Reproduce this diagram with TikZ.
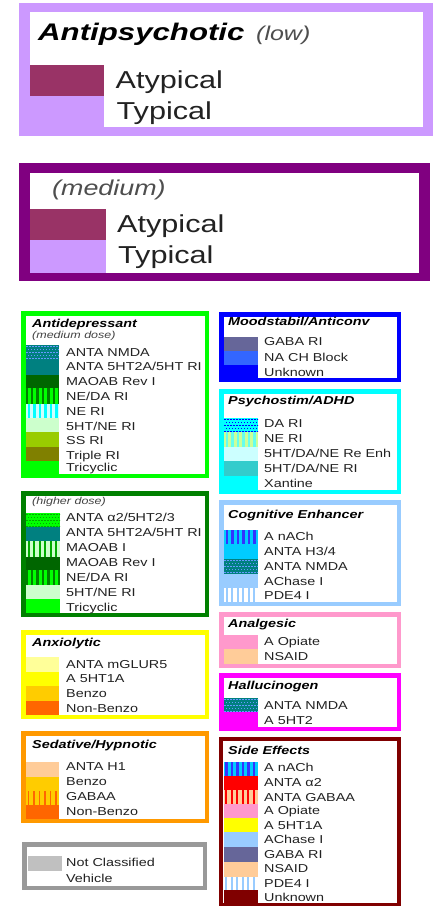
\documentclass[tikz,border=0pt]{standalone}
\usepackage{fontspec}
\setmainfont{Liberation Sans}[FakeStretch=1.25]
\newfontfamily\bigfam{Liberation Sans}[FakeStretch=1.3]
\definecolor{txt}{HTML}{222222}
\definecolor{lpurple}{HTML}{CC99FF}
\definecolor{dpurple}{HTML}{800080}
\definecolor{atyp}{HTML}{993366}
\definecolor{bgreen}{HTML}{00FF00}
\definecolor{mgreen}{HTML}{008000}
\definecolor{dgreen}{HTML}{006600}
\definecolor{teal2}{HTML}{008080}
\definecolor{lgreen}{HTML}{CCFFCC}
\definecolor{ssri}{HTML}{99CC00}
\definecolor{olive2}{HTML}{808000}
\definecolor{yel}{HTML}{FFFF00}
\definecolor{pyel}{HTML}{FFFF99}
\definecolor{gold}{HTML}{FFCC00}
\definecolor{orng}{HTML}{FF6600}
\definecolor{obord}{HTML}{FF9900}
\definecolor{peach}{HTML}{FFCC99}
\definecolor{gbord}{HTML}{999999}
\definecolor{gsw}{HTML}{C0C0C0}
\definecolor{blu}{HTML}{0000FF}
\definecolor{slate}{HTML}{666699}
\definecolor{mblue}{HTML}{3366FF}
\definecolor{cyn}{HTML}{00FFFF}
\definecolor{lcyan}{HTML}{CCFFFF}
\definecolor{mcyan}{HTML}{33CCCC}
\definecolor{skyb}{HTML}{99CCFF}
\definecolor{dsky}{HTML}{00CCFF}
\definecolor{pink2}{HTML}{FF99CC}
\definecolor{mag}{HTML}{FF00FF}
\definecolor{dred}{HTML}{800000}
\definecolor{rd}{HTML}{FF0000}
\definecolor{lav}{HTML}{6699FF}
\definecolor{dotg}{HTML}{00AA00}
\definecolor{bbar}{HTML}{3333FF}
\definecolor{nebg}{HTML}{CCFF99}
\definecolor{nefg}{HTML}{66FFEE}
\newcommand{\lf}{\fontsize{11.5}{13}\selectfont}
\newcommand{\frm}[6]{\fill[#1] (#2,#3) rectangle (#4,#5);
  \fill[white] ({#2+#6},{#3+#6}) rectangle ({#4-#6},{#5-#6});}
\newcommand{\sw}[5]{\fill[#5] (#1,#3) rectangle (#2,#4);}
\newcommand{\strp}[7]{\fill[#5] (#1,#3) rectangle (#2,#4);
  \foreach \k in {0,...,5} \fill[#6] ({#1+1.5+\k*5.5},#3) rectangle ++(#7,{#4-#3});}
\newcommand{\dotsw}[6]{\fill[#5] (#1,#3) rectangle (#2,#4);
  \begin{scope}\clip (#1,#3) rectangle (#2,#4);
  \foreach \r in {0,...,4}{\foreach \c in {0,...,11}{
    \fill[#6] ({#1+\c*3+mod(\r,2)*1.5},{#3+1+\r*3}) rectangle ++(1.6,1.3);}}
  \end{scope}}
\newcommand{\lab}[4]{\node[lab] (#1) at (#2,#3) {#4};}
\newcommand{\ttl}[4]{\node[ttl] (#1) at (#2,#3) {#4};}
\begin{document}
\begin{tikzpicture}[x=1pt,y=-1pt,
  lab/.style={anchor=base west,inner sep=0pt,text=txt,font=\lf},
  ttl/.style={anchor=base west,inner sep=0pt,text=black,font=\lf\bfseries\itshape}]
\useasboundingbox (0,0) rectangle (439,906);
\fill[white] (0,0) rectangle (439,906);
% ---- Antipsychotic low
\fill[lpurple] (19,3.3) rectangle (432.7,136);
\fill[white] (30,12.3) rectangle (422.7,126.7);
\sw{30}{104}{65}{96}{atyp}
\sw{30}{104}{96}{126.7}{lpurple}
\node[anchor=base west,inner sep=0pt,text=black,font=\bigfam\fontsize{24}{26}\selectfont\bfseries\itshape] (ap) at (38,40.5) {Antipsychotic};
\node[anchor=base west,inner sep=0pt,text=txt!80,font=\fontsize{20}{22}\selectfont\itshape] (low) at (256,40.5) {(low)};
\node[anchor=base west,inner sep=0pt,text=txt,font=\fontsize{24.5}{26}\selectfont] (a1) at (115.5,88.3) {Atypical};
\node[anchor=base west,inner sep=0pt,text=txt,font=\fontsize{24.5}{26}\selectfont] (t1) at (116.5,119) {Typical};
% ---- medium
\fill[dpurple] (19,163.3) rectangle (430,280.7);
\fill[white] (30,172.7) rectangle (419.3,272.7);
\sw{30}{106}{209}{240}{atyp}
\sw{30}{106}{240}{272.7}{lpurple}
\node[anchor=base west,inner sep=0pt,text=txt!80,font=\fontsize{21.5}{23}\selectfont\itshape] (med) at (52,195) {(medium)};
\node[anchor=base west,inner sep=0pt,text=txt,font=\fontsize{24.5}{26}\selectfont] (a2) at (117,232.7) {Atypical};
\node[anchor=base west,inner sep=0pt,text=txt,font=\fontsize{24.5}{26}\selectfont] (t2) at (118,263.3) {Typical};
% ---- Antidepressant medium
\frm{bgreen}{21}{311}{209}{478}{4.5}
\dotsw{26}{59}{345}{360}{teal2}{lav}
\sw{26}{59}{360}{375}{teal2}
\sw{26}{59}{375}{388}{dgreen}
\strp{26}{59}{388}{404}{mgreen}{bgreen}{3}
\strp{26}{59}{404}{418}{lcyan}{cyn}{2.5}
\sw{26}{59}{418}{432}{lgreen}
\sw{26}{59}{432}{447}{ssri}
\sw{26}{59}{447}{461}{olive2}
\sw{26}{59}{461}{473.5}{bgreen}
\ttl{adt}{32}{327}{Antidepressant}
\node[anchor=base west,inner sep=0pt,text=txt!85,font=\fontsize{10}{11}\selectfont\itshape] (adm) at (32,338.3) {(medium dose)};
\lab{ad1}{66}{356.7}{ANTA NMDA}
\lab{ad2}{66}{370.7}{ANTA 5HT2A/5HT RI}
\lab{ad3}{66}{385.7}{MAOAB Rev I}
\lab{ad4}{66}{400}{NE/DA RI}
\lab{ad5}{66}{415}{NE RI}
\lab{ad6}{66}{430}{5HT/NE RI}
\lab{ad7}{66}{444.3}{SS RI}
\lab{ad8}{66}{459}{Triple RI}
\lab{ad9}{66}{471}{Tricyclic}
% ---- Antidepressant higher
\frm{mgreen}{21}{491}{209}{617}{4.5}
\dotsw{26}{60}{513}{527}{bgreen}{dotg}
\sw{26}{60}{527}{541}{teal2}
\strp{26}{60}{541}{557}{lgreen}{dotg}{2}
\sw{26}{60}{557}{570}{dgreen}
\strp{26}{60}{570}{585}{mgreen}{bgreen}{3}
\sw{26}{60}{585}{599}{lgreen}
\sw{26}{60}{599}{612.5}{bgreen}
\node[anchor=base west,inner sep=0pt,text=txt!85,font=\fontsize{10}{11}\selectfont\itshape] (hd) at (32,504) {(higher dose)};
\lab{hd1}{66}{521}{ANTA α2/5HT2/3}
\lab{hd2}{66}{536}{ANTA 5HT2A/5HT RI}
\lab{hd3}{66}{551}{MAOAB I}
\lab{hd4}{66}{566}{MAOAB Rev I}
\lab{hd5}{66}{581}{NE/DA RI}
\lab{hd6}{66}{596}{5HT/NE RI}
\lab{hd7}{66}{611}{Tricyclic}
% ---- Anxiolytic
\frm{yel}{21}{630}{209}{719}{4.5}
\sw{26}{59}{657}{672}{pyel}
\sw{26}{59}{672}{686}{yel}
\sw{26}{59}{686}{701}{gold}
\sw{26}{59}{701}{714.5}{orng}
\ttl{ax}{32}{646.7}{Anxiolytic}
\lab{ax1}{66}{668.3}{ANTA mGLUR5}
\lab{ax2}{66}{682.3}{A 5HT1A}
\lab{ax3}{66}{697.3}{Benzo}
\lab{ax4}{66}{712.3}{Non-Benzo}
% ---- Sedative
\frm{obord}{21}{731}{209}{823}{4.5}
\sw{26}{59}{762}{777}{peach}
\sw{26}{59}{777}{791}{gold}
\strp{26}{59}{791}{805}{gold}{orng}{1.5}
\sw{26}{59}{805}{818.5}{orng}
\ttl{sd}{32}{748.3}{Sedative/Hypnotic}
\lab{sd1}{66}{770.7}{ANTA H1}
\lab{sd2}{66}{785}{Benzo}
\lab{sd3}{66}{800}{GABAA}
\lab{sd4}{66}{815.7}{Non-Benzo}
% ---- Not classified
\frm{gbord}{22}{842}{207}{890}{4.5}
\sw{28}{62}{856}{871}{gsw}
\lab{nc1}{66}{866.7}{Not Classified}
\lab{nc2}{66}{882.3}{Vehicle}
% ---- Moodstabil
\frm{blu}{219}{312}{401}{382}{4.5}
\sw{224}{258}{337}{351}{slate}
\sw{224}{258}{351}{365}{mblue}
\sw{224}{258}{365}{377.5}{blu}
\ttl{ms}{228}{325.7}{Moodstabil/Anticonv}
\lab{ms1}{264}{345.7}{GABA RI}
\lab{ms2}{264}{361}{NA CH Block}
\lab{ms3}{264}{376.7}{Unknown}
% ---- Psychostim
\frm{cyn}{219}{389}{401}{494}{4.5}
\dotsw{224}{258}{418}{432}{cyn}{blu}
\strp{224}{258}{432}{447}{nebg}{nefg}{2.5}
\sw{224}{258}{447}{461}{lcyan}
\sw{224}{258}{461}{476}{mcyan}
\sw{224}{258}{476}{489.5}{cyn}
\ttl{ps}{228}{404}{Psychostim/ADHD}
\lab{ps1}{264}{427.7}{DA RI}
\lab{ps2}{264}{442.7}{NE RI}
\lab{ps3}{264}{457.3}{5HT/DA/NE Re Enh}
\lab{ps4}{264}{472.7}{5HT/DA/NE RI}
\lab{ps5}{264}{487.7}{Xantine}
% ---- Cognitive
\frm{skyb}{219}{500}{401}{606}{4.5}
\strp{224}{258}{530}{544}{dsky}{bbar}{2.5}
\sw{224}{258}{544}{559}{dsky}
\dotsw{224}{258}{559}{574}{teal2}{lav}
\sw{224}{258}{574}{588}{skyb}
\strp{224}{258}{588}{601.5}{white}{skyb}{2}
\ttl{ce}{228}{518.3}{Cognitive Enhancer}
\lab{ce1}{264}{540.7}{A nACh}
\lab{ce2}{264}{555.7}{ANTA H3/4}
\lab{ce3}{264}{570}{ANTA NMDA}
\lab{ce4}{264}{585}{AChase I}
\lab{ce5}{264}{599}{PDE4 I}
% ---- Analgesic
\frm{pink2}{219}{612}{401}{668}{4.5}
\sw{224}{258}{635}{649}{pink2}
\sw{224}{258}{649}{663.5}{peach}
\ttl{an}{228}{627.3}{Analgesic}
\lab{an1}{264}{645}{A Opiate}
\lab{an2}{264}{660.7}{NSAID}
% ---- Hallucinogen
\frm{mag}{219}{673}{401}{731}{4.5}
\dotsw{224}{258}{698}{712}{teal2}{lav}
\sw{224}{258}{712}{726.5}{mag}
\ttl{ha}{228}{689.3}{Hallucinogen}
\lab{ha1}{264}{709}{ANTA NMDA}
\lab{ha2}{264}{724.3}{A 5HT2}
% ---- Side effects
\frm{dred}{219}{737}{401}{907}{4.2}
\strp{223.5}{258}{762}{776}{dsky}{bbar}{2.5}
\sw{223.5}{258}{776}{790}{rd}
\strp{223.5}{258}{790}{804}{peach}{rd}{2}
\sw{223.5}{258}{804}{818}{pink2}
\sw{223.5}{258}{818}{832}{yel}
\sw{223.5}{258}{832}{847}{skyb}
\sw{223.5}{258}{847}{862}{slate}
\sw{223.5}{258}{862}{877}{peach}
\strp{223.5}{258}{877}{890}{white}{skyb}{2}
\sw{223.5}{258}{890}{903}{dred}
\ttl{se}{228}{754}{Side Effects}
\lab{se1}{264}{771.7}{A nACh}
\lab{se2}{264}{786}{ANTA α2}
\lab{se3}{264}{801}{ANTA GABAA}
\lab{se4}{264}{814.3}{A Opiate}
\lab{se5}{264}{829}{A 5HT1A}
\lab{se6}{264}{843.3}{AChase I}
\lab{se7}{264}{858.3}{GABA RI}
\lab{se8}{264}{872.7}{NSAID}
\lab{se9}{264}{887.3}{PDE4 I}
\lab{se10}{264}{901.7}{Unknown}
\end{tikzpicture}
\end{document}
